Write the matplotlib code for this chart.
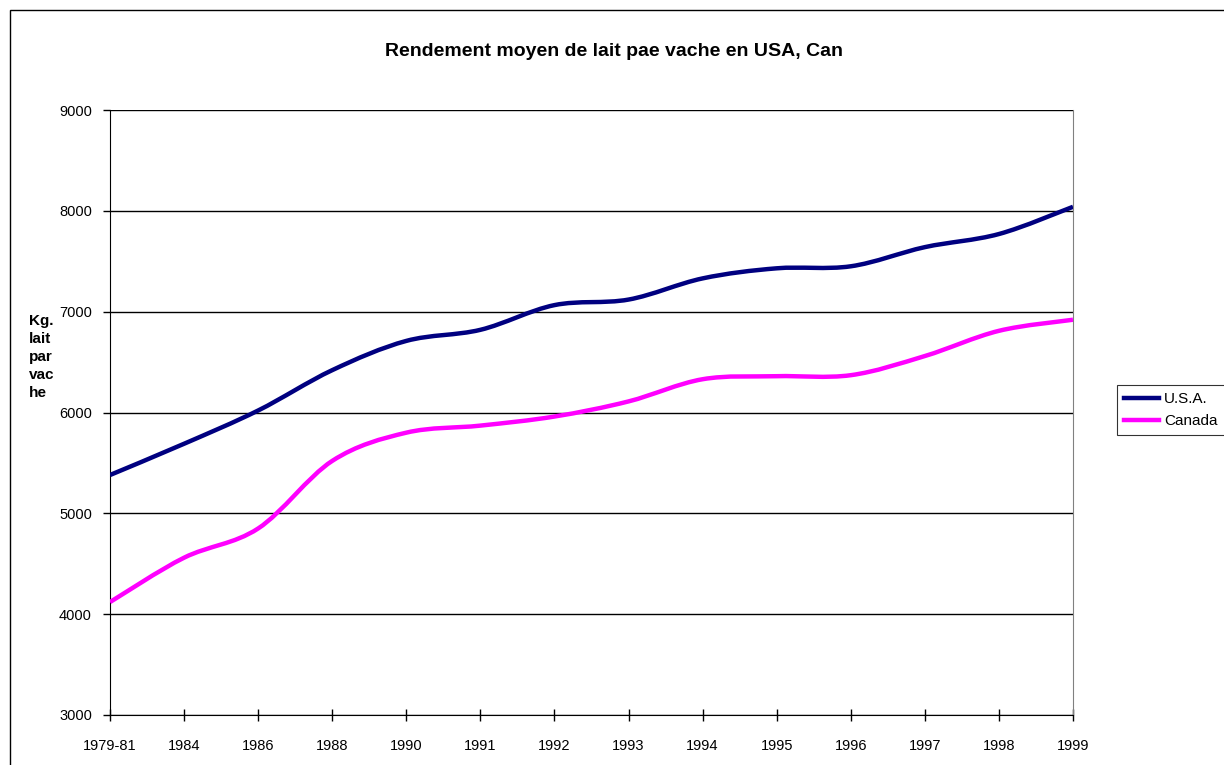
import matplotlib
matplotlib.use("Agg")
import matplotlib.pyplot as plt
from matplotlib.path import Path
from matplotlib.patches import PathPatch, Rectangle
from matplotlib.lines import Line2D

plt.rcParams['font.family'] = ['Liberation Sans', 'DejaVu Sans']

categories = ["1979-81", "1984", "1986", "1988", "1990", "1991", "1992",
              "1993", "1994", "1995", "1996", "1997", "1998", "1999"]
usa = [5380, 5690, 6020, 6420, 6710, 6820, 7065, 7120, 7330, 7430, 7450, 7640, 7770, 8040]
canada = [4120, 4560, 4850, 5520, 5800, 5870, 5960, 6110, 6330, 6360, 6370, 6560, 6810, 6920]
yticks = [3000, 4000, 5000, 6000, 7000, 8000, 9000]

title = "Rendement moyen de lait pae vache en USA, Can"
ylabel = "Kg.\nlait\npar\nvac\nhe"

W, H = 1224, 765
fig = plt.figure(figsize=(W / 100, H / 100), dpi=100)
ax = fig.add_axes([110 / W, (H - 715) / H, (1073 - 110) / W, (715 - 110) / H])


def smooth_path(xs, ys):
    verts = [(xs[0], ys[0])]
    codes = [Path.MOVETO]
    n = len(xs)
    for i in range(n - 1):
        x0, y0 = (xs[i - 1], ys[i - 1]) if i > 0 else (xs[i], ys[i])
        x1, y1 = xs[i], ys[i]
        x2, y2 = xs[i + 1], ys[i + 1]
        x3, y3 = (xs[i + 2], ys[i + 2]) if i + 2 < n else (xs[i + 1], ys[i + 1])
        c1 = (x1 + (x2 - x0) / 6, y1 + (y2 - y0) / 6)
        c2 = (x2 - (x3 - x1) / 6, y2 - (y3 - y1) / 6)
        verts += [c1, c2, (x2, y2)]
        codes += [Path.CURVE4] * 3
    return Path(verts, codes)


xs = list(range(len(categories)))
series = [("U.S.A.", usa, "#000080"), ("Canada", canada, "#FF00FF")]
handles = []
for name, vals, col in series:
    patch = PathPatch(smooth_path(xs, vals), fill=False, edgecolor=col,
                      lw=3.2, capstyle='butt', joinstyle='round', zorder=3)
    ax.add_patch(patch)
    handles.append(Line2D([], [], color=col, lw=3.2, label=name))

ax.set_xlim(0, len(categories) - 1)
ax.set_ylim(3000, 9000)
ax.set_xticks(xs)
ax.set_xticklabels(categories, fontsize=10.5)
ax.set_yticks(yticks)
ax.set_yticklabels([str(v) for v in yticks], fontsize=10.5)
ax.yaxis.grid(True, color='black', lw=1.0)
ax.set_axisbelow(True)
ax.spines['top'].set_visible(False)
ax.spines['right'].set_color('#808080')
ax.spines['left'].set_color('black')
ax.spines['bottom'].set_color('black')
ax.tick_params(axis='x', direction='inout', length=8, width=1, pad=13)
ax.tick_params(axis='y', direction='out', length=5, width=1, pad=8)

fig.text(614 / W, 1 - 51 / H, title, ha='center', va='center',
         fontsize=14, fontweight='bold')
fig.text(29 / W, 1 - 357 / H, ylabel, ha='left', va='center',
         fontsize=11, fontweight='bold', linespacing=1.38)

leg = fig.legend(handles=handles, loc='upper left',
                 bbox_to_anchor=(1117 / W, 1 - 385 / H), frameon=True,
                 fancybox=False, edgecolor='black', fontsize=11,
                 handlelength=2.3, borderpad=0.45, labelspacing=0.55,
                 handletextpad=0.35, borderaxespad=0)
leg.get_frame().set_linewidth(0.8)

fig.add_artist(Rectangle((10 / W, -0.01), 1.0, 1 - 10 / H + 0.01,
                         transform=fig.transFigure, fill=False,
                         edgecolor='black', lw=1.0))

fig.savefig("out.png", dpi=100)
